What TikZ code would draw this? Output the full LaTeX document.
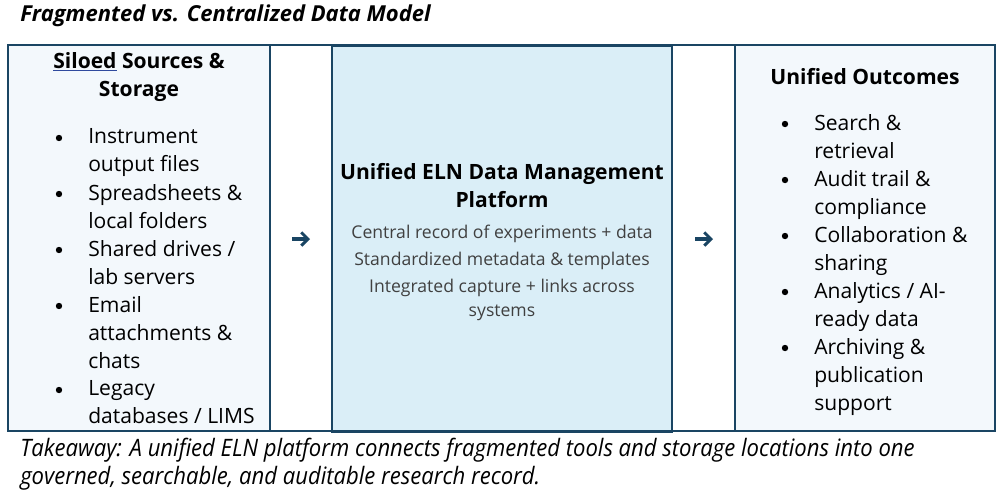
\documentclass[tikz,border=0pt]{standalone}
\usepackage{fontspec}
\setmainfont{Open Sans}
\newfontfamily\takefont[FakeStretch=0.92]{Open Sans}
\usetikzlibrary{arrows.meta}
\definecolor{navy}{HTML}{1A4563}
\definecolor{palefill}{HTML}{F3F8FC}
\definecolor{centerfill}{HTML}{DAEEF7}
\definecolor{bodygray}{HTML}{404040}
\definecolor{spellblue}{HTML}{2F4A9E}
\begin{document}
\begin{tikzpicture}[x=0.75pt,y=-0.75pt,
  cellbox/.style={draw=navy,line width=0.8pt,fill=palefill,minimum height=289.5pt,inner sep=0pt},
  gapbox/.style={draw=navy,line width=0.8pt,fill=white,minimum height=289.5pt,inner sep=0pt},
  centerbox/.style={draw=navy,line width=1.6pt,fill=centerfill,minimum height=289.5pt,inner sep=0pt},
  heading/.style={font=\fontsize{15.8}{21}\selectfont\bfseries,align=center,inner sep=0pt},
  item/.style={font=\fontsize{15.8}{21}\selectfont,align=left,anchor=north west,inner sep=0pt},
  bul/.style={circle,fill=black,inner sep=0pt,minimum size=4.8pt},
  cbody/.style={font=\fontsize{13.2}{18}\selectfont,text=bodygray,align=center,inner sep=0pt},
  arr/.style={draw=navy,line width=2.4pt,-{Straight Barb[length=5pt,width=10pt,line width=2.2pt]}}]
\useasboundingbox (0,0) rectangle (997,490);
% title
\node[font=\fontsize{16.5}{19}\selectfont\bfseries\itshape,anchor=west,inner sep=0pt] (title) at (20,16) {Fragmented vs. Centralized Data Model};
% cells
\node[cellbox,minimum width=196.5pt] (L) at (139,238) {};
\node[gapbox,minimum width=46.5pt] (G1) at (301,238) {};
\node[gapbox,minimum width=47.25pt] (G2) at (703.5,238) {};
\node[cellbox,minimum width=195pt] (R) at (865,238) {};
\node[centerbox,minimum width=255pt] (C) at (502,238.5) {};
% left heading
\node[heading] (lh) at (139,77) {{\color{spellblue}\underline{{\color{black}Siloed}}} Sources \&\\Storage};
% left bullets
\node[bul] (lb1) at (59,138) {};
\node[item] (li1) at (88,128) {Instrument\\output files};
\node[bul] (lb2) at (59,194) {};
\node[item] (li2) at (88,184) {Spreadsheets \&\\local folders};
\node[bul] (lb3) at (59,250) {};
\node[item] (li3) at (88,240) {Shared drives /\\lab servers};
\node[bul] (lb4) at (59,306) {};
\node[item] (li4) at (88,296) {Email\\attachments \&\\chats};
\node[bul] (lb5) at (59,390) {};
\node[item] (li5) at (88,380) {Legacy\\databases / LIMS};
% center
\node[heading] (ch) at (502,186) {Unified ELN Data Management\\Platform};
\node[cbody] (cb1) at (502,234) {Central record of experiments + data};
\node[cbody] (cb2) at (502,261) {Standardized metadata \& templates};
\node[cbody] (cb3) at (502,300) {Integrated capture + links across\\systems};
% right heading
\node[heading] (rh) at (865,77) {Unified Outcomes};
% right bullets
\node[bul] (rb1) at (785,124) {};
\node[item] (ri1) at (814,114) {Search \&\\retrieval};
\node[bul] (rb2) at (785,180) {};
\node[item] (ri2) at (814,170) {Audit trail \&\\compliance};
\node[bul] (rb3) at (785,236) {};
\node[item] (ri3) at (814,226) {Collaboration \&\\sharing};
\node[bul] (rb4) at (785,292) {};
\node[item] (ri4) at (814,282) {Analytics / AI-\\ready data};
\node[bul] (rb5) at (785,348) {};
\node[item] (ri5) at (814,338) {Archiving \&\\publication\\support};
% arrows
\coordinate (a1s) at (292,239);
\coordinate (a1e) at (310,239);
\coordinate (a2s) at (695,239);
\coordinate (a2e) at (713,239);
\draw[arr] (a1s) -- (a1e);
\draw[arr] (a2s) -- (a2e);
% takeaway
\node[font=\fontsize{18}{21}\selectfont\takefont\itshape,align=left,anchor=north west,inner sep=0pt] (take) at (20,438) {Takeaway: A unified ELN platform connects fragmented tools and storage locations into one\\governed, searchable, and auditable research record.};
\end{tikzpicture}
\end{document}
